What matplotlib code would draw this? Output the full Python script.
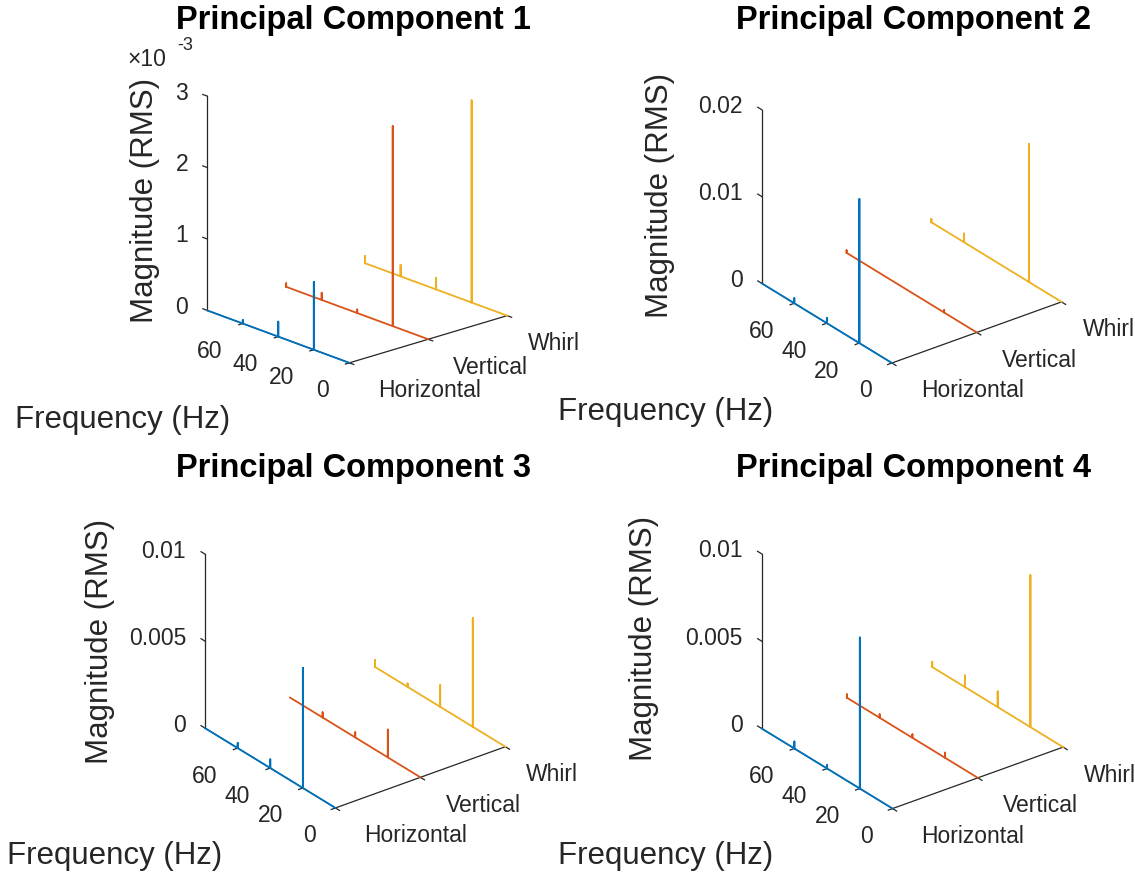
import matplotlib
matplotlib.use("Agg")
import matplotlib.pyplot as plt
import numpy as np
from mpl_toolkits.mplot3d import proj3d

plt.rcParams["font.family"] = ["Liberation Sans", "DejaVu Sans"]

W_PX, H_PX = 1135, 873

# ── data ─────────────────────────────────────────────────────────────────────
directions = ["Horizontal", "Vertical", "Whirl"]
colors = ["#0072BD", "#D95319", "#EDB120"]
freq_max = 80
freq_ticks = [0, 20, 40, 60]
titles = ["Principal Component 1", "Principal Component 2",
          "Principal Component 3", "Principal Component 4"]

# peak frequencies (Hz) and RMS magnitudes, one list per direction
pc1_freqs = [[60, 40, 20], [80, 60, 40, 20], [80, 60, 40, 20]]
pc1_amps = [[0.05e-3, 0.21e-3, 0.95e-3],
            [0.05e-3, 0.10e-3, 0.05e-3, 2.80e-3],
            [0.10e-3, 0.16e-3, 0.16e-3, 2.83e-3]]

pc2_freqs = [[60, 40, 20], [80, 20], [80, 60, 20]]
pc2_amps = [[0.0006, 0.0006, 0.0166],
            [0.0003, 0.0003],
            [0.0004, 0.0010, 0.0159]]

pc3_freqs = [[60, 40, 20], [60, 40, 20], [80, 60, 40, 20]]
pc3_amps = [[0.0003, 0.0005, 0.0069],
            [0.0003, 0.0003, 0.0016],
            [0.0004, 0.0002, 0.00125, 0.00625]]

pc4_freqs = [[60, 40, 20], [80, 60, 40, 20], [80, 60, 40, 20]]
pc4_amps = [[0.0004, 0.0002, 0.00865],
            [0.0002, 0.0002, 0.0002, 0.0003],
            [0.0003, 0.00067, 0.0009, 0.0087]]

z_max = [3e-3, 0.02, 0.01, 0.01]
z_ticks = [[0, 1e-3, 2e-3, 3e-3], [0, 0.01, 0.02], [0, 0.005, 0.01], [0, 0.005, 0.01]]
z_ticklabels = [["0", "1", "2", "3"], ["0", "0.01", "0.02"],
                ["0", "0.005", "0.01"], ["0", "0.005", "0.01"]]

all_freqs = [pc1_freqs, pc2_freqs, pc3_freqs, pc4_freqs]
all_amps = [pc1_amps, pc2_amps, pc3_amps, pc4_amps]

# ── layout (image pixels, y down) ────────────────────────────────────────────
views = [(19.4, -132), (28, -127.5), (28, -127.5), (28, -127.5)]
box_z = [1.07, 0.92, 0.92, 0.92]
# targets for: z-axis top, z-axis bottom, front corner, right corner
fit_targets = [
    [(208, 95), (208, 311), (348, 363), (507, 316)],
    [(762, 110), (762, 282), (891, 363), (1062, 303)],
    [(205, 554), (205, 728), (336, 808), (505, 747)],
    [(762, 554), (762, 728), (891, 808), (1064, 748)],
]
title_pos = [(353, 20), (914, 20), (353, 469), (914, 469)]
freq_label_pos = [(15, 420), (558, 412), (7, 856), (558, 856)]
mag_label_pos = [(145, 200), (660, 195), (100, 641), (644, 638)]
init_rects = [[0.05, 0.5, 0.45, 0.45], [0.55, 0.5, 0.45, 0.45],
              [0.05, 0.0, 0.45, 0.45], [0.55, 0.0, 0.45, 0.45]]

TXT = "#262626"


def spectrum(freqs, amps):
    """Spike polyline from the peak list, running from freq_max down to 0."""
    f, a = [freq_max], [0.0]
    for fr, am in sorted(zip(freqs, amps), reverse=True):
        f += [fr, fr, fr]
        a += [0.0, am, 0.0]
    f.append(0)
    a.append(0.0)
    return np.array(f, float), np.array(a, float)


def fig_text(fig, x, y, s, **kw):
    fig.text(x / W_PX, 1 - y / H_PX, s, **kw)


def label_at(ax, s, xyz, dx, dy, **kw):
    xs, ys, _ = proj3d.proj_transform(*xyz, ax.get_proj())
    ax.annotate(s, (xs, ys), xytext=(dx, -dy), textcoords="offset pixels",
                annotation_clip=False, color=TXT, fontsize=16.5, **kw)


def fit_axes(ax, pts3d, targets):
    """Move/scale the (square) 3d axes so the given corners land on targets."""
    bb = ax.bbox
    c0 = np.array([(bb.x0 + bb.x1) / 2, (bb.y0 + bb.y1) / 2])
    w0 = bb.width
    M = ax.get_proj()
    q = []
    for x, y, z in pts3d:
        xs, ys, _ = proj3d.proj_transform(x, y, z, M)
        d = ax.transData.transform((xs, ys))
        q.append((d - c0) / w0)
    q = np.array(q)
    t = np.array([(tx, H_PX - ty) for tx, ty in targets], float)
    qm, tm = q.mean(0), t.mean(0)
    w = ((q - qm) * (t - tm)).sum() / ((q - qm) ** 2).sum()
    c = tm - w * qm
    ax.set_position([(c[0] - w / 2) / W_PX, (c[1] - w / 2) / H_PX,
                     w / W_PX, w / H_PX])


fig = plt.figure(figsize=(W_PX / 100, H_PX / 100), dpi=100)
axes = []
for i in range(4):
    ax = fig.add_axes(init_rects[i], projection="3d", proj_type="ortho")
    ax.computed_zorder = False
    ax.view_init(elev=views[i][0], azim=views[i][1])
    ax.set_box_aspect((1, 1, box_z[i]))
    ax.set_xlim(1, 3)
    ax.set_ylim(0, freq_max)
    ax.set_zlim(0, z_max[i])
    ax.set_axis_off()
    ax.set_facecolor("none")

    zt = z_max[i]
    # axis lines
    ax.plot([1, 3], [0, 0], [0, 0], color=TXT, lw=0.9, zorder=1)
    ax.plot([1, 1], [freq_max, freq_max], [0, zt], color=TXT, lw=0.9, zorder=1)
    ax.plot([1, 1], [0, freq_max], [0, 0], color=TXT, lw=0.9, zorder=1)
    for k in range(3):
        ax.plot([k + 1, k + 1], [0, -2.5], [0, 0], color=TXT, lw=0.9, zorder=1)
    for zv in z_ticks[i]:
        ax.plot([1, 1], [freq_max, freq_max + 2.5], [zv, zv], color=TXT, lw=0.9, zorder=1)
    for fv in freq_ticks:
        ax.plot([1, 0.95], [fv, fv], [0, 0], color=TXT, lw=0.9, zorder=1)

    # spectra, back to front
    for k in (2, 1, 0):
        f, a = spectrum(all_freqs[i][k], all_amps[i][k])
        ax.plot(np.full_like(f, k + 1), f, a, color=colors[k], lw=1.3,
                zorder=2 + (2 - k))

    # tick labels
    for zv, zl in zip(z_ticks[i], z_ticklabels[i]):
        label_at(ax, zl, (1, freq_max, zv), -19, -3, ha="right", va="center")
    for fv in freq_ticks:
        label_at(ax, str(fv), (1, fv, 0), -20, 28, ha="right", va="center")
    for k, name in enumerate(directions):
        label_at(ax, name, (k + 1, 0, 0), [29, 25, 21][k], 28, ha="left", va="center")

    fig_text(fig, *title_pos[i], titles[i], ha="center", va="center",
             fontsize=23.5, fontweight="bold", color="black")
    fig_text(fig, *freq_label_pos[i], "Frequency (Hz)", ha="left", va="center",
             fontsize=22.5, color=TXT)
    fig_text(fig, *mag_label_pos[i], "Magnitude (RMS)", ha="center", va="center",
             rotation=90, fontsize=22.5, color=TXT)
    axes.append(ax)

fig_text(fig, 127, 60, "×10", ha="left", va="center", fontsize=16.5, color=TXT)
fig_text(fig, 177, 46, "-3", ha="left", va="center", fontsize=13, color=TXT)

fig.canvas.draw()
for i, ax in enumerate(axes):
    zt = z_max[i]
    fit_axes(ax, [(1, freq_max, zt), (1, freq_max, 0), (1, 0, 0), (3, 0, 0)],
             fit_targets[i])

fig.savefig("out.png", dpi=100)
